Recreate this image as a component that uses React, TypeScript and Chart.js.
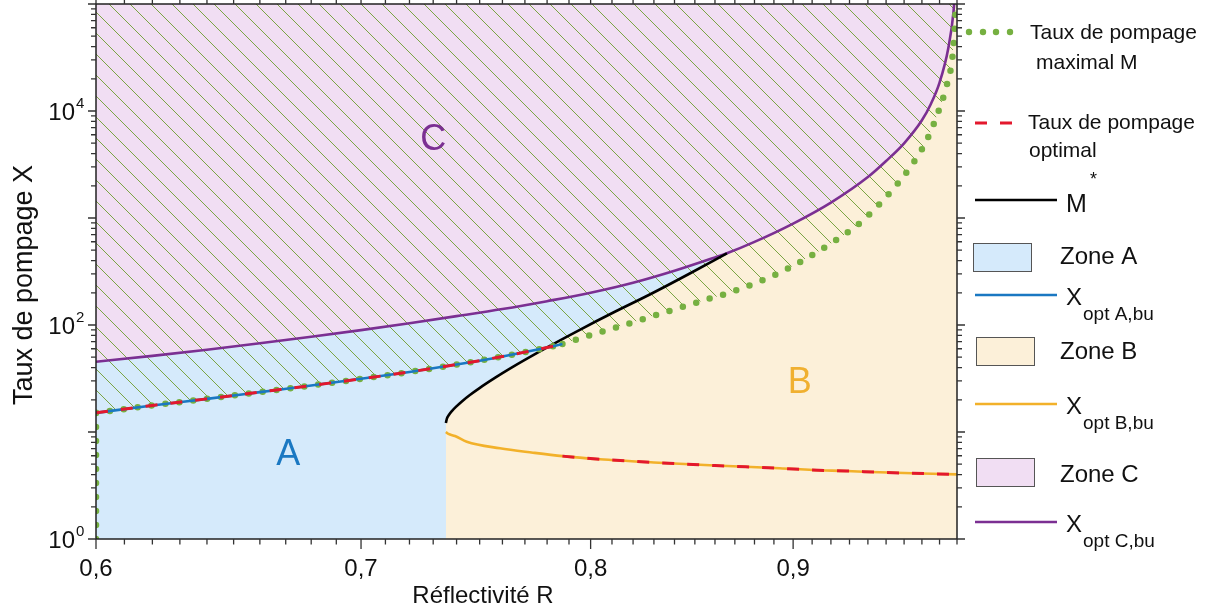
import React, { useEffect, useRef } from 'react';
import { Chart, registerables } from 'chart.js';

Chart.register(...registerables);

// ---- Data (R = réflectivité, X = taux de pompage) ----
const xOptC_R = [0.6, 0.62, 0.64, 0.66, 0.68, 0.7, 0.72, 0.74, 0.76, 0.78, 0.8, 0.82, 0.84, 0.86, 0.866, 0.88, 0.9, 0.92, 0.94, 0.95, 0.96, 0.97, 0.975, 0.98, 0.985, 0.988, 0.99];
const xOptC_X = [45.4, 51.5, 58.8, 67.4, 77.6, 89.6, 104, 121, 141, 167, 200, 248, 321, 428, 468, 598, 887, 1394, 2416, 3411, 4990, 8185, 11580, 18420, 38650, 84700, 260000];

const xOptA_R = [0.6, 0.62, 0.64, 0.66, 0.68, 0.7, 0.72, 0.74, 0.76, 0.78, 0.787];
const xOptA_X = [15.1, 17.7, 20.4, 23.6, 27.2, 31.4, 36.4, 42.7, 50.8, 61.6, 66.5];

const xOptB_R = [0.7354, 0.7365, 0.7393, 0.7444, 0.7589, 0.7736, 0.787, 0.8043, 0.83, 0.86, 0.893, 0.9103, 0.9283, 0.9465, 0.9648, 0.99];
const xOptB_X = [10.0, 9.6, 9.18, 8.11, 7.04, 6.41, 5.95, 5.56, 5.19, 4.86, 4.58, 4.41, 4.32, 4.2, 4.11, 4.02];

const mStar_R = [0.7354, 0.73584, 0.73669, 0.73798, 0.7397, 0.74228, 0.74574, 0.75009, 0.75667, 0.76329, 0.77898, 0.79499, 0.81134, 0.82801, 0.8475, 0.866];
const mStar_X = [12.14, 13.35, 14.42, 15.68, 17.16, 19.32, 22.17, 25.88, 32.03, 39.13, 60.16, 90.2, 132.9, 192.8, 303, 468];

const mMax_R = [0.787, 0.8, 0.82, 0.84, 0.858, 0.864, 0.878, 0.893, 0.907, 0.9215, 0.9365, 0.951, 0.963, 0.9726, 0.979, 0.984, 0.9873, 0.9886, 0.9893];
const mMax_X = [66.5, 80.5, 106, 140, 178, 192, 236.6, 308, 420, 601, 924, 1641, 2913, 5280, 9510, 17130, 31050, 57150, 100000];

const mMaxEdge_R = [0.6, 0.6];
const mMaxEdge_X = [1, 15.1];

const optSwitchR = 0.787;

const xTickValues = [0.6, 0.7, 0.8, 0.9];
const xTickLabels = ['0,6', '0,7', '0,8', '0,9'];
const yLabelExponents = [0, 2, 4];

const FONT = '"Liberation Sans", Arial, Helvetica, sans-serif';

const COLORS = {
  blueFill: '#d5eafb',
  yellowFill: '#fcf0d9',
  pinkFill: '#f1def3',
  blue: '#1a78c2',
  yellow: '#f2b12a',
  purple: '#7b2f92',
  red: '#e3182d',
  green: '#76b041',
  hatch: '#7ba543',
  black: '#000000',
};

function pts(rs: number[], xs: number[]) {
  return rs.map((r, i) => ({ x: r, y: xs[i] }));
}

function makeHatch(): CanvasPattern | string {
  const s = 21;
  const c = document.createElement('canvas');
  c.width = s;
  c.height = s;
  const g = c.getContext('2d');
  if (!g) return COLORS.hatch;
  g.strokeStyle = COLORS.hatch;
  g.lineWidth = 1;
  g.beginPath();
  g.moveTo(-2, -2);
  g.lineTo(s + 2, s + 2);
  g.moveTo(s - 2, -2);
  g.lineTo(s + 2, 2);
  g.moveTo(-2, s - 2);
  g.lineTo(2, s + 2);
  g.stroke();
  const p = g.createPattern(c, 'repeat');
  return p || COLORS.hatch;
}

const decorPlugin = {
  id: 'decor',
  afterDraw(chart: any) {
    const ctx: CanvasRenderingContext2D = chart.ctx;
    const { left, right, top, bottom } = chart.chartArea;
    const xs = chart.scales.x;
    const ys = chart.scales.y;
    ctx.save();

    // Zone letters
    ctx.textAlign = 'center';
    ctx.textBaseline = 'middle';
    ctx.font = `36px ${FONT}`;
    ctx.fillStyle = COLORS.blue;
    ctx.fillText('A', xs.getPixelForValue(0.671), ys.getPixelForValue(6.1));
    ctx.fillStyle = '#f0b030';
    ctx.fillText('B', xs.getPixelForValue(0.9035), ys.getPixelForValue(28.7));
    ctx.fillStyle = COLORS.purple;
    ctx.fillText('C', xs.getPixelForValue(0.73), ys.getPixelForValue(5358));

    // Frame
    ctx.strokeStyle = '#222';
    ctx.lineWidth = 1.5;
    ctx.strokeRect(left, top, right - left, bottom - top);

    // X ticks
    ctx.lineWidth = 1.3;
    ctx.strokeStyle = '#333';
    for (let k = 60; k <= 99; k++) {
      const v = k / 100;
      const px = xs.getPixelForValue(v);
      const major = k % 10 === 0;
      const len = major ? 10 : 5.5;
      ctx.beginPath();
      ctx.moveTo(px, bottom);
      ctx.lineTo(px, bottom + len);
      ctx.moveTo(px, top);
      ctx.lineTo(px, top - len);
      ctx.stroke();
    }
    // Y ticks
    for (let e = 0; e <= 5; e++) {
      for (let m = 1; m <= 9; m++) {
        if (e === 5 && m > 1) break;
        const v = m * Math.pow(10, e);
        const py = ys.getPixelForValue(v);
        const len = m === 1 ? 8 : 5;
        ctx.beginPath();
        ctx.moveTo(left, py);
        ctx.lineTo(left - len, py);
        ctx.moveTo(right, py);
        ctx.lineTo(right + len, py);
        ctx.stroke();
      }
    }

    // X tick labels
    ctx.fillStyle = '#111';
    ctx.font = `24px ${FONT}`;
    ctx.textAlign = 'center';
    ctx.textBaseline = 'alphabetic';
    xTickValues.forEach((v, i) => {
      ctx.fillText(xTickLabels[i], xs.getPixelForValue(v), 576);
    });
    // X title
    ctx.fillText('Réflectivité R', 483, 603);

    // Y tick labels
    yLabelExponents.forEach((e) => {
      const py = ys.getPixelForValue(Math.pow(10, e));
      ctx.font = `24px ${FONT}`;
      ctx.textAlign = 'right';
      ctx.fillText('10', 75, py + 9);
      ctx.font = `15px ${FONT}`;
      ctx.textAlign = 'left';
      ctx.fillText(String(e), 76, py - 3);
    });

    // Y title
    ctx.save();
    ctx.translate(32, 285);
    ctx.rotate(-Math.PI / 2);
    ctx.font = `27px ${FONT}`;
    ctx.textAlign = 'center';
    ctx.textBaseline = 'alphabetic';
    ctx.fillText('Taux de pompage X', 0, 0);
    ctx.restore();

    // ---- Legend ----
    ctx.textAlign = 'left';
    ctx.textBaseline = 'middle';
    ctx.fillStyle = COLORS.green;
    [969, 983, 996, 1010].forEach((x) => {
      ctx.beginPath();
      ctx.arc(x, 32, 3.2, 0, Math.PI * 2);
      ctx.fill();
    });
    ctx.fillStyle = '#111';
    ctx.font = `21px ${FONT}`;
    ctx.fillText('Taux de pompage', 1030, 33);
    ctx.fillText('maximal M', 1036, 63);
    ctx.strokeStyle = COLORS.red;
    ctx.lineWidth = 3;
    ctx.beginPath();
    ctx.moveTo(975, 123);
    ctx.lineTo(987, 123);
    ctx.moveTo(1000, 123);
    ctx.lineTo(1012, 123);
    ctx.stroke();
    ctx.fillText('Taux de pompage', 1028, 123);
    ctx.fillText('optimal', 1029, 151);
    ctx.strokeStyle = COLORS.black;
    ctx.lineWidth = 2.5;
    ctx.beginPath();
    ctx.moveTo(975, 200);
    ctx.lineTo(1057, 200);
    ctx.stroke();
    ctx.font = `25px ${FONT}`;
    ctx.fillText('M', 1066, 205);
    ctx.font = `18px ${FONT}`;
    ctx.fillText('*', 1090, 180);

    const zoneBox = (x: number, y: number, fill: string, label: string, ty: number) => {
      ctx.fillStyle = fill;
      ctx.fillRect(x, y, 58, 28);
      ctx.strokeStyle = '#555';
      ctx.lineWidth = 1;
      ctx.strokeRect(x + 0.5, y + 0.5, 58, 28);
      ctx.fillStyle = '#111';
      ctx.font = `24px ${FONT}`;
      ctx.fillText(label, 1060, ty);
    };
    const xLine = (y: number, color: string, sub: string) => {
      ctx.strokeStyle = color;
      ctx.lineWidth = 2.5;
      ctx.beginPath();
      ctx.moveTo(975, y);
      ctx.lineTo(1057, y);
      ctx.stroke();
      ctx.fillStyle = '#111';
      ctx.font = `24px ${FONT}`;
      ctx.fillText('X', 1066, y + 3);
      ctx.font = `19px ${FONT}`;
      ctx.fillText(sub, 1083, y + 20);
    };
    zoneBox(973, 243, COLORS.blueFill, 'Zone A', 257);
    xLine(295, COLORS.blue, 'opt A,bu');
    zoneBox(976, 337, COLORS.yellowFill, 'Zone B', 352);
    xLine(404, COLORS.yellow, 'opt B,bu');
    zoneBox(976, 458, COLORS.pinkFill, 'Zone C', 475);
    xLine(522, COLORS.purple, 'opt C,bu');

    ctx.restore();
  },
};

export default function App() {
  const ref = useRef<HTMLCanvasElement | null>(null);

  useEffect(() => {
    if (!ref.current) return;
    const hatch = makeHatch();

    const purple = pts(xOptC_R, xOptC_X);
    const tailIdx = xOptC_R.findIndex((r) => r > 0.866);
    const zoneBBoundary = pts(mStar_R, mStar_X).concat(pts(xOptC_R.slice(tailIdx), xOptC_X.slice(tailIdx)));
    const mCurve = pts(xOptA_R, xOptA_X).concat(pts(mMax_R.slice(1), mMax_X.slice(1)));
    const optB = xOptB_R.map((r, i) => ({ x: r, y: xOptB_X[i] })).filter((p) => p.x >= optSwitchR);

    const smooth = { cubicInterpolationMode: 'monotone' };
    const fillBase = { pointRadius: 0, borderWidth: 0, borderColor: 'transparent', clip: 0, ...smooth } as any;
    const lineBase = { pointRadius: 0, fill: false, clip: 0, backgroundColor: 'transparent', ...smooth } as any;
    const dots = { borderColor: COLORS.green, borderWidth: 6.5, borderDash: [0, 14], borderCapStyle: 'round' };

    const chart = new Chart(ref.current, {
      type: 'line',
      data: {
        datasets: [
          { ...fillBase, label: 'zoneA', data: purple, fill: 'start', backgroundColor: COLORS.blueFill, order: 100 },
          { ...fillBase, label: 'zoneC', data: purple, fill: 'end', backgroundColor: COLORS.pinkFill, order: 99 },
          { ...fillBase, label: 'zoneB', data: zoneBBoundary, fill: 'start', backgroundColor: COLORS.yellowFill, order: 98 },
          { ...fillBase, label: 'hatch', data: mCurve, fill: 'end', backgroundColor: hatch, order: 97 },
          { ...lineBase, label: 'Xopt C', data: purple, borderColor: COLORS.purple, borderWidth: 2.6, order: 10 },
          { ...lineBase, label: 'M*', data: pts(mStar_R, mStar_X), borderColor: COLORS.black, borderWidth: 2.6, order: 9 },
          { ...lineBase, ...dots, label: 'M edge', data: pts(mMaxEdge_R, mMaxEdge_X), cubicInterpolationMode: 'default', tension: 0, order: 8 },
          { ...lineBase, ...dots, label: 'M', data: pts(mMax_R, mMax_X), order: 7 },
          { ...lineBase, ...dots, label: 'M on A', data: pts(xOptA_R, xOptA_X), order: 6 },
          { ...lineBase, label: 'Xopt B', data: pts(xOptB_R, xOptB_X), borderColor: COLORS.yellow, borderWidth: 2.6, order: 5 },
          { ...lineBase, label: 'Xopt A', data: pts(xOptA_R, xOptA_X), borderColor: COLORS.blue, borderWidth: 2.6, order: 4 },
          { ...lineBase, label: 'opt 1', data: pts(xOptA_R, xOptA_X), borderColor: COLORS.red, borderWidth: 3, borderDash: [12, 13], order: 3 },
          { ...lineBase, label: 'opt 2', data: optB, borderColor: COLORS.red, borderWidth: 3, borderDash: [12, 13], order: 2 },
        ],
      },
      options: {
        responsive: false,
        devicePixelRatio: 1,
        animation: false,
        events: [],
        layout: { padding: { left: 96, right: 261, top: 4, bottom: 74 } },
        scales: {
          x: { type: 'logarithmic', min: 0.6, max: 0.99, display: false },
          y: { type: 'logarithmic', min: 1, max: 100000, display: false },
        },
        plugins: {
          legend: { display: false },
          tooltip: { enabled: false },
        },
      },
      plugins: [decorPlugin],
    } as any);

    return () => chart.destroy();
  }, []);

  return (
    <div style={{ position: 'fixed', left: 0, top: 0, width: 1218, height: 613, background: '#fff' }}>
      <canvas ref={ref} width={1218} height={613} style={{ display: 'block', width: 1218, height: 613 }} />
    </div>
  );
}
